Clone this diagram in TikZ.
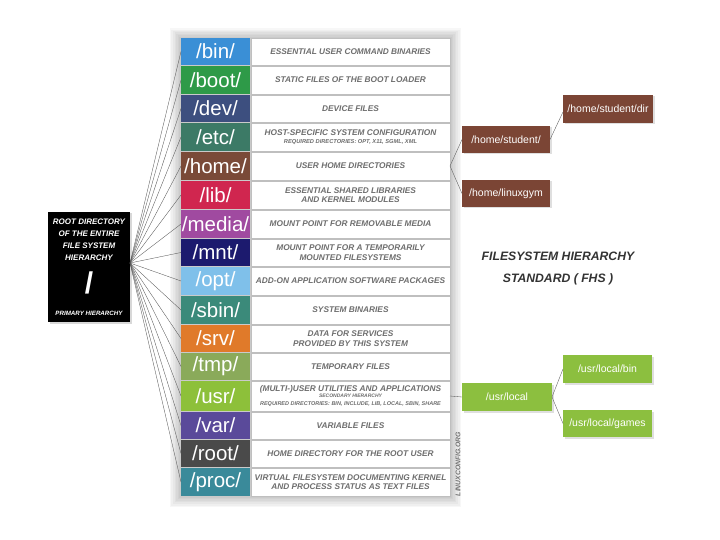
\documentclass[tikz,border=0pt]{standalone}
\usepackage{fontspec}
\setmainfont{Liberation Sans}
\usetikzlibrary{shadows}
\definecolor{cbin}{HTML}{3A8FD6}
\definecolor{cboot}{HTML}{2E9A48}
\definecolor{cdev}{HTML}{3D4F7F}
\definecolor{cetc}{HTML}{3C7A66}
\definecolor{chome}{HTML}{7A4A38}
\definecolor{clib}{HTML}{D0264F}
\definecolor{cmedia}{HTML}{A04AA0}
\definecolor{cmnt}{HTML}{1C1A6E}
\definecolor{copt}{HTML}{7FC0EA}
\definecolor{csbin}{HTML}{3B8A7A}
\definecolor{csrv}{HTML}{E07A2A}
\definecolor{ctmp}{HTML}{8AAA5A}
\definecolor{cusr}{HTML}{8DC03A}
\definecolor{cvar}{HTML}{5A4A9A}
\definecolor{croot}{HTML}{4A4A4A}
\definecolor{cproc}{HTML}{3A8A9A}
\definecolor{descgray}{HTML}{6E6E6E}
\definecolor{brownfill}{HTML}{7B4535}
\definecolor{greenfill}{HTML}{8CBF3F}
\newcommand\descfont{\fontsize{8.3}{9.6}\selectfont\bfseries\itshape}
\newcommand\smallreq{\fontsize{5.7}{6.2}\selectfont}
\tikzset{
  dircell/.style={fill=#1, inner sep=0pt, outer sep=0pt, minimum width=69pt,
    text=white, font=\fontsize{20.5}{22}\selectfont},
  desccell/.style={draw=black!25, line width=0.7pt, fill=white, inner sep=0pt,
    outer sep=0pt, minimum width=199pt, text=descgray, align=center, font=\descfont},
  link/.style={draw=black!65, line width=0.35pt},
  subbox/.style={fill=#1, inner sep=0pt, outer sep=0pt, text=white,
    font=\fontsize{10.5}{12}\selectfont,
    drop shadow={opacity=0.25, shadow xshift=1.5pt, shadow yshift=-1.5pt}},
  roottext/.style={text=white, align=center, font=\fontsize{8}{12}\selectfont\bfseries\itshape}
}
\newcommand\fhsrow[5]{%
  \node[dircell=#2, minimum height={#4-#3}] (#1) at (215.5,{(#3+#4)/2}) {/#1/};
  \node[desccell, minimum height={#4-#3}] (d#1) at (350.5,{(#3+#4)/2}) {#5};
  \draw[link] (hub) -- (#1.west);
}
\begin{document}
\begin{tikzpicture}[x=1pt,y=-1pt]
\useasboundingbox[fill=white] (0,0) rectangle (720,540);
% soft halo behind the table
\foreach \i in {1,...,7}{
  \fill[black, opacity=0.03] ({181-1.6*\i},{38-1.4*\i}) rectangle ({450+1.6*\i},{496+1.6*\i});
}
% root box
\node[fill=black, minimum width=82pt, minimum height=110pt, inner sep=0pt,
      drop shadow={opacity=0.3, shadow xshift=1.5pt, shadow yshift=-1.5pt}] (rootbox) at (89,267) {};
\node[roottext] (rtext) at (89,240) {ROOT DIRECTORY\\OF THE ENTIRE\\FILE SYSTEM\\HIERARCHY};
\node[text=white, font=\fontsize{30}{30}\selectfont\bfseries] (rslash) at (89,283) {/};
\node[roottext, font=\fontsize{6.2}{7}\selectfont\bfseries\itshape] (rprim) at (89,313) {PRIMARY HIERARCHY};
\coordinate (hub) at (130,263);
% rows
\fhsrow{bin}{cbin}{38}{65}{ESSENTIAL USER COMMAND BINARIES}
\fhsrow{boot}{cboot}{66}{94}{STATIC FILES OF THE BOOT LOADER}
\fhsrow{dev}{cdev}{95}{122}{DEVICE FILES}
\fhsrow{etc}{cetc}{123}{151}{HOST-SPECIFIC SYSTEM CONFIGURATION\\[-1.5pt]{\smallreq REQUIRED DIRECTORIES: OPT, X11, SGML, XML}}
\fhsrow{home}{chome}{152}{180}{USER HOME DIRECTORIES}
\fhsrow{lib}{clib}{181}{209}{ESSENTIAL SHARED LIBRARIES\\AND KERNEL MODULES}
\fhsrow{media}{cmedia}{210}{238}{MOUNT POINT FOR REMOVABLE MEDIA}
\fhsrow{mnt}{cmnt}{239}{266}{MOUNT POINT FOR A TEMPORARILY\\MOUNTED FILESYSTEMS}
\fhsrow{opt}{copt}{267}{295}{ADD-ON APPLICATION SOFTWARE PACKAGES}
\fhsrow{sbin}{csbin}{296}{324}{SYSTEM BINARIES}
\fhsrow{srv}{csrv}{325}{352}{DATA FOR SERVICES\\PROVIDED BY THIS SYSTEM}
\fhsrow{tmp}{ctmp}{353}{380}{TEMPORARY FILES}
\fhsrow{usr}{cusr}{381}{411}{(MULTI-)USER UTILITIES AND APPLICATIONS\\[-3pt]{\fontsize{5}{5.5}\selectfont SECONDARY HIERARCHY}\\[-1.5pt]{\fontsize{5.5}{6}\selectfont REQUIRED DIRECTORIES: BIN, INCLUDE, LIB, LOCAL, SBIN, SHARE}}
\fhsrow{var}{cvar}{412}{439}{VARIABLE FILES}
\fhsrow{root}{croot}{440}{467}{HOME DIRECTORY FOR THE ROOT USER}
\fhsrow{proc}{cproc}{468}{496}{VIRTUAL FILESYSTEM DOCUMENTING KERNEL\\AND PROCESS STATUS AS TEXT FILES}
% credit
\node[rotate=90, text=black!55, font=\fontsize{6.8}{7}\selectfont\bfseries\itshape] (credit) at (458,464) {LINUXCONFIG.ORG};
% title
\node[align=center, text=black!80, font=\fontsize{12.2}{22}\selectfont\bfseries\itshape] (title) at (558,269) {FILESYSTEM HIERARCHY\\STANDARD ( FHS )};
% home subtree
\node[subbox=brownfill, minimum width=88pt, minimum height=27pt] (hs) at (506,139.5) {/home/student/};
\node[subbox=brownfill, minimum width=88pt, minimum height=27pt] (hl) at (506,193.5) {/home/linuxgym};
\node[subbox=brownfill, minimum width=90pt, minimum height=28pt] (hsd) at (608,109) {/home/student/dir};
\draw[link] (dhome.east) -- (hs.west);
\draw[link] (dhome.east) -- (hl.west);
\draw[link] (hs.east) -- ([yshift=-3pt]hsd.west);
% usr subtree
\node[subbox=greenfill, minimum width=90pt, minimum height=28pt] (ul) at (507,397) {/usr/local};
\node[subbox=greenfill, minimum width=89pt, minimum height=28pt] (ulb) at (607.5,369) {/usr/local/bin};
\node[subbox=greenfill, minimum width=89pt, minimum height=27pt] (ulg) at (607.5,423.5) {/usr/local/games};
\draw[link] (dusr.east) -- (ul.west);
\draw[link] (ul.east) -- (ulb.west);
\draw[link] (ul.east) -- (ulg.west);
\end{tikzpicture}
\end{document}
